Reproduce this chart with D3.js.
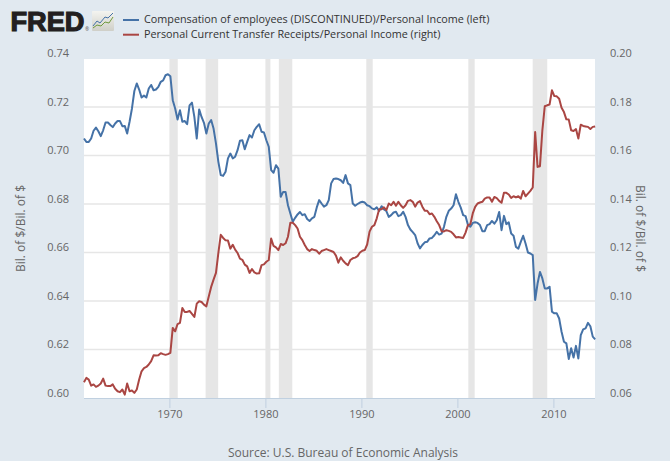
<!DOCTYPE html>
<html><head><meta charset="utf-8">
<script src="https://cdn.jsdelivr.net/npm/d3@7/dist/d3.min.js"></script>
<style>html,body{margin:0;padding:0;background:#e1e9f0}svg{display:block}text{font-family:"Open Sans",sans-serif}</style>
</head><body><svg id="c" width="670" height="461"></svg>
<script>
const startYear = 1961.1;
const stepYears = 0.25;
const compensation = [
.7070,.7056,.7056,.7070,.7102,.7115,.7100,.7080,.7104,.7136,.7136,.7126,.7117,.7132,.7142,.7142,.7121,.7122,.7091,.7139,
.7194,.7266,.7297,.7272,.7239,.7247,.7239,.7276,.7291,.7269,.7272,.7283,.7304,.7310,.7331,.7335,.7327,.7228,.7194,.7148,
.7187,.7139,.7142,.7129,.7207,.7218,.7159,.7070,.7190,.7159,.7135,.7091,.7132,.7146,.7111,.7050,.6974,.6919,.6916,.6933,
.6988,.7008,.6988,.6995,.7022,.7061,.7063,.7026,.7056,.7084,.7074,.7104,.7118,.7129,
.7098,.7095,.7063,
.7036,.6940,.6929,.6960,.6946,.6830,.6850,.6850,.6795,.6761,.6727,.6743,.6757,.6767,.6754,.6758,.6738,.6730,.6741,.6747,
.6786,.6816,.6802,.6789,.6795,.6816,.6885,.6903,.6905,.6903,.6898,.6887,.6919,.6885,.6878,.6802,.6793,.6800,.6806,.6809,
.6806,.6795,.6791,.6782,.6778,.6786,.6771,.6791,.6778,.6771,.6747,.6754,.6765,.6768,.6750,.6754,.6768,.6747,.6713,.6695,
.6684,.6672,.6638,.6617,.6631,.6642,.6644,.6658,
.6660,.6671,.6685,.6674,.6678,.6706,.6747,.6772,.6781,.6795,.6840,.6809,.6785,.6754,.6750,.6713,.6706,.6722,.6725,.6722,
.6713,.6688,.6688,.6713,.6717,.6730,.6719,.6733,.6767,.6692,.6751,.6717,.6724,.6678,.6669,.6623,.6616,.6644,.6669,.6637,
.6600,.6596,.6589,.6404,.6472,.6520,.6493,.6452,.6452,.6459,.6356,.6349,.6349,.6328,.6273,.6232,.6225,.6161,.6205,.6167,
.6215,.6163,.6259,.6283,.6287,.6310,.6296,.6253,.6242];
const transfers = [
.0665,.0683,.0676,.0651,.0656,.0646,.0651,.0660,.0680,.0651,.0649,.0649,.0656,.0638,.0628,.0624,.0635,.0614,.0660,.0628,
.0631,.0621,.0635,.0676,.0710,.0723,.0728,.0738,.0752,.0776,.0775,.0776,.0785,.0781,.0778,.0781,.0786,.0889,.0875,.0905,
.0910,.0971,.0955,.0955,.0959,.0947,.0934,.0989,.0999,.0996,.0985,.0978,.1019,.1058,.1088,.1116,.1198,.1273,.1260,.1250,
.1249,.1216,.1232,.1212,.1198,.1175,.1170,.1150,.1143,.1116,.1132,.1118,.1113,.1114,
.1148,.1151,.1162,.1169,.1258,.1227,.1221,.1210,.1235,.1231,.1238,.1265,.1323,.1323,.1313,.1299,.1265,.1251,.1231,.1214,
.1206,.1214,.1210,.1207,.1195,.1206,.1210,.1214,.1210,.1206,.1202,.1187,.1158,.1180,.1166,.1155,.1148,.1169,.1176,.1179,
.1185,.1200,.1207,.1210,.1233,.1286,.1306,.1313,.1341,.1378,.1378,.1386,.1375,.1402,.1395,.1409,.1393,.1409,.1395,.1384,
.1395,.1413,.1416,.1409,.1389,.1406,.1412,.1389,.1372,.1372,.1358,
.1361,.1347,.1329,.1313,.1288,.1287,.1292,.1289,.1285,.1275,.1262,.1264,.1262,.1260,.1282,.1313,.1317,.1361,.1388,.1402,
.1406,.1409,.1422,.1427,.1427,.1409,.1429,.1424,.1413,.1405,.1446,.1446,.1439,.1425,.1432,.1427,.1432,.1422,.1454,.1432,
.1443,.1454,.1468,.1697,.1553,.1556,.1704,.1803,.1807,.1810,.1869,.1845,.1844,.1834,.1797,.1779,.1749,.1748,.1704,.1701,
.1709,.1670,.1727,.1722,.1720,.1718,.1709,.1718,.1720];
const recessions = [[1970.0,1970.87],[1973.77,1975.08],[1980,1980.52],[1981.4,1982.8],[1990.51,1991.18],[2001.14,2001.8],[2007.84,2009.36]];
const xTickYears = [1970,1980,1990,2000,2010];
const leftTicks = [0.60,0.62,0.64,0.66,0.68,0.70,0.72,0.74];
const rightTicks = [0.06,0.08,0.10,0.12,0.14,0.16,0.18,0.20];
const seriesNames = ["Compensation of employees (DISCONTINUED)/Personal Income (left)","Personal Current Transfer Receipts/Personal Income (right)"];
const axisTitle = "Bil. of $/Bil. of $";
const sourceText = "Source: U.S. Bureau of Economic Analysis";
const BLUE="#4572a7", RED="#aa4643";

const svg=d3.select("#c");
const L=84,R=595,T=59,B=398;
const x=d3.scaleLinear().domain([1961,2014.25]).range([83,594.2]);
const yL=d3.scaleLinear().domain([0.60,0.74]).range([B,58.5]);
const yR=d3.scaleLinear().domain([0.06,0.20]).range([B,58.5]);

svg.append("rect").attr("width",670).attr("height",461).attr("fill","#e1e9f0");
svg.append("rect").attr("x",L).attr("y",T).attr("width",R-L).attr("height",B-T).attr("fill","#fff");
svg.selectAll("line.g").data(leftTicks.slice(1,-1)).join("line").attr("class","g")
 .attr("x1",L).attr("x2",R).attr("y1",d=>yL(d)).attr("y2",d=>yL(d)).attr("stroke","#e6e6e6").attr("stroke-width",1.4);
svg.selectAll("rect.r").data(recessions).join("rect").attr("class","r")
 .attr("x",d=>x(d[0])).attr("width",d=>x(d[1])-x(d[0])).attr("y",T).attr("height",B-T).attr("fill","#e6e6e6");

// axes
const fmt=d3.format(".2f");
const gx=svg.append("g").attr("transform",`translate(0,${B})`).call(d3.axisBottom(x).tickValues(xTickYears).tickFormat(d3.format("d")).tickSize(10).tickSizeOuter(0).tickPadding(2));
gx.select(".domain").remove();
svg.append("line").attr("x1",L).attr("x2",R).attr("y1",B+.5).attr("y2",B+.5).attr("stroke","#c0d0e0");
gx.selectAll(".tick line").attr("stroke","#c0d0e0");
gx.selectAll("text").attr("fill","#666").attr("font-size",11).style("font-family",'"Open Sans",sans-serif');
const gl=svg.append("g").attr("transform",`translate(${L},0)`).call(d3.axisLeft(yL).tickValues(leftTicks).tickFormat(fmt).tickSize(0).tickPadding(15));
gl.select(".domain").remove();
gl.selectAll("text").attr("fill","#666").attr("font-size",11).attr("dy",-2).style("font-family",'"Open Sans",sans-serif');
const gr=svg.append("g").attr("transform",`translate(${R},0)`).call(d3.axisRight(yR).tickValues(rightTicks).tickFormat(fmt).tickSize(0).tickPadding(15));
gr.select(".domain").remove();
gr.selectAll("text").attr("fill","#666").attr("font-size",11).attr("dy",-2).style("font-family",'"Open Sans",sans-serif');

const line=(scale)=>d3.line().x((d,i)=>x(startYear+i*stepYears)).y(d=>scale(d));
svg.append("path").attr("d",line(yL)(compensation)).attr("fill","none").attr("stroke",BLUE).attr("stroke-width",2).attr("stroke-linejoin","round");
svg.append("path").attr("d",line(yR)(transfers)).attr("fill","none").attr("stroke",RED).attr("stroke-width",2).attr("stroke-linejoin","round");

// titles
svg.append("text").attr("transform","translate(25,228.5) rotate(-90)").attr("text-anchor","middle").attr("fill","#666").attr("font-size",12).text(axisTitle);
svg.append("text").attr("transform","translate(636,228.5) rotate(90)").attr("text-anchor","middle").attr("fill","#666").attr("font-size",12).text(axisTitle);
svg.append("text").attr("x",343).attr("y",457).attr("text-anchor","middle").attr("fill","#666").attr("font-size",12).text(sourceText);

// legend
[BLUE,RED].forEach((c,i)=>{
 const yy=20+i*14.7;
 svg.append("line").attr("x1",123).attr("x2",139).attr("y1",yy).attr("y2",yy).attr("stroke",c).attr("stroke-width",2);
 svg.append("text").attr("x",144).attr("y",yy+3).attr("fill","#333").attr("font-size",10.8).text(seriesNames[i]);
});

// logo
svg.append("text").attr("x",10.5).attr("y",30.5).attr("font-size",27.5).attr("font-weight",900).attr("fill","#231f20")
 .attr("textLength",74).attr("lengthAdjust","spacingAndGlyphs").attr("stroke","#231f20").attr("stroke-width",1.2)
 .style("font-family",'"Liberation Sans",sans-serif').text("FRED");
svg.append("text").attr("x",85).attr("y",31).attr("font-size",5).attr("fill","#555").text("®");
const defs=svg.append("defs").append("linearGradient").attr("id","lg").attr("x1",0).attr("x2",0).attr("y1",0).attr("y2",1);
defs.append("stop").attr("offset",0).attr("stop-color","#f4f4f0");defs.append("stop").attr("offset",1).attr("stop-color","#cfcfc8");
svg.append("rect").attr("x",92).attr("y",11).attr("width",22).attr("height",20).attr("rx",1).attr("fill","url(#lg)");
svg.append("path").attr("d","M93,26L97,21L100,23L105,17L108,18L113,13").attr("fill","none").attr("stroke","#4572a7").attr("stroke-width",1);
svg.append("path").attr("d","M93,28L97,25L101,26L105,22L109,23L113,17").attr("fill","none").attr("stroke","#6f9a3e").attr("stroke-width",1);
</script></body></html>
